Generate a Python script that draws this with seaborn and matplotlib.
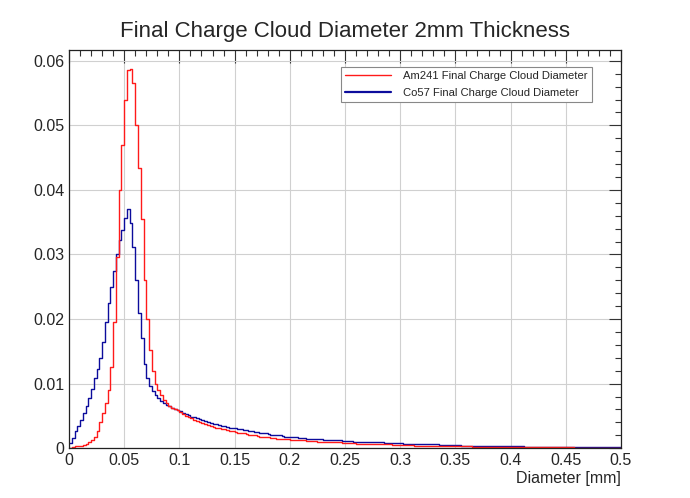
import numpy as np
import pandas as pd
import matplotlib
matplotlib.use("Agg")
import matplotlib.pyplot as plt
from matplotlib.ticker import MultipleLocator
import seaborn as sns

# 200 bins of width 0.0025 mm from 0 to 0.5 mm
bin_width = 0.0025
x_range = (0.0, 0.5)

am241 = [
    0.0001, 0.0002, 0.0003, 0.0003, 0.0004, 0.0005, 0.0007, 0.0009, 0.0012, 0.0018,
    0.0026, 0.0040, 0.0054, 0.0070, 0.0090, 0.0125, 0.0195, 0.0296, 0.0400, 0.0470,
    0.0540, 0.0585, 0.0588, 0.0566, 0.0500, 0.0434, 0.0355, 0.0260, 0.0200, 0.0152,
    0.0120, 0.0100, 0.0090, 0.0082, 0.0075, 0.0070, 0.0066, 0.0063, 0.0061, 0.0059,
    0.0056, 0.0053, 0.0050, 0.0048, 0.0046, 0.0044, 0.0042, 0.0041, 0.0039, 0.0038,
    0.0036, 0.0035, 0.0033, 0.0032, 0.0031, 0.0030, 0.0029, 0.0028, 0.0027, 0.0026,
    0.0025, 0.0024, 0.0023, 0.0023, 0.0022, 0.0021, 0.0020, 0.0020, 0.0019, 0.0018,
    0.0018, 0.0017, 0.0017, 0.0016, 0.0016, 0.0015, 0.0015, 0.0014, 0.0014, 0.0014,
    0.0013, 0.0013, 0.0013, 0.0012, 0.0012, 0.0012, 0.0011, 0.0011, 0.0011, 0.0011,
    0.0010, 0.0010, 0.0010, 0.0010, 0.0009, 0.0009, 0.0009, 0.0009, 0.0009, 0.0008,
    0.0008, 0.0008, 0.0008, 0.0008, 0.0007, 0.0007, 0.0007, 0.0007, 0.0007, 0.0007,
    0.0006, 0.0006, 0.0006, 0.0006, 0.0006, 0.0006, 0.0006, 0.0005, 0.0005, 0.0005,
    0.0005, 0.0005, 0.0005, 0.0005, 0.0005, 0.0004, 0.0004, 0.0004, 0.0004, 0.0004,
    0.0004, 0.0004, 0.0004, 0.0004, 0.0003, 0.0003, 0.0003, 0.0003, 0.0003, 0.0003,
    0.0003, 0.0003, 0.0003, 0.0003, 0.0003, 0.0003, 0.00025, 0.00025, 0.00025, 0.00025,
    0.00025, 0.00025, 0.0002, 0.0002, 0.0002, 0.0002, 0.0002, 0.0002, 0.0002, 0.0002,
    0.0002, 0.0002, 0.00018, 0.00018, 0.00018, 0.00016, 0.00016, 0.00016, 0.00015, 0.00015,
    0.00015, 0.00014, 0.00014, 0.00013, 0.00013, 0.00013, 0.00012, 0.00012, 0.00012, 0.00012,
    0.00011, 0.00011, 0.00011, 0.0001, 0.0001, 0.0001, 0.0001, 0.0001, 0.00009, 0.00009,
    0.00009, 0.00009, 0.00009, 0.00008, 0.00008, 0.00008, 0.00008, 0.00008, 0.00007, 0.00007,
]

co57 = [
    0.0008, 0.0016, 0.0026, 0.0035, 0.0044, 0.0055, 0.0066, 0.0078, 0.0092, 0.0108,
    0.0122, 0.0140, 0.0165, 0.0195, 0.0225, 0.0250, 0.0275, 0.0300, 0.0322, 0.0338,
    0.0357, 0.0370, 0.0349, 0.0312, 0.0260, 0.0210, 0.0170, 0.0130, 0.0108, 0.0096,
    0.0088, 0.0082, 0.0077, 0.0073, 0.0070, 0.0067, 0.0065, 0.0063, 0.0061, 0.0059,
    0.0057, 0.0055, 0.0053, 0.0051, 0.0049, 0.0048, 0.0046, 0.0045, 0.0043, 0.0042,
    0.0040, 0.0039, 0.0038, 0.0037, 0.0036, 0.0035, 0.0034, 0.0033, 0.0032, 0.0031,
    0.0031, 0.0030, 0.0029, 0.0028, 0.0028, 0.0027, 0.0026, 0.0025, 0.0025, 0.0024,
    0.0023, 0.0023, 0.0022, 0.0021, 0.0021, 0.0020, 0.0020, 0.0019, 0.0018, 0.0018,
    0.0017, 0.0017, 0.0017, 0.0016, 0.0016, 0.0016, 0.0015, 0.0015, 0.0015, 0.0014,
    0.0014, 0.0014, 0.0013, 0.0013, 0.0013, 0.0012, 0.0012, 0.0012, 0.0012, 0.0011,
    0.0011, 0.0011, 0.0011, 0.0010, 0.0010, 0.0010, 0.0010, 0.0010, 0.0009, 0.0009,
    0.0009, 0.0009, 0.0009, 0.0009, 0.0008, 0.0008, 0.0008, 0.0008, 0.0008, 0.0008,
    0.0008, 0.0007, 0.0007, 0.0007, 0.0007, 0.0007, 0.0007, 0.0006, 0.0006, 0.0006,
    0.0006, 0.0006, 0.0006, 0.0006, 0.0005, 0.0005, 0.0005, 0.0005, 0.0005, 0.0005,
    0.0005, 0.0005, 0.0004, 0.0004, 0.0004, 0.0004, 0.0004, 0.0004, 0.0004, 0.0004,
    0.0004, 0.0004, 0.0003, 0.0003, 0.0003, 0.0003, 0.0003, 0.0003, 0.0003, 0.0003,
    0.0003, 0.0003, 0.0003, 0.00028, 0.00028, 0.00026, 0.00026, 0.00025, 0.00025, 0.00024,
    0.00024, 0.00023, 0.00023, 0.00022, 0.00022, 0.00021, 0.00021, 0.0002, 0.0002, 0.0002,
    0.0002, 0.00019, 0.00019, 0.00018, 0.00018, 0.00017, 0.00017, 0.00016, 0.00016, 0.00016,
    0.00015, 0.00015, 0.00015, 0.00014, 0.00014, 0.00014, 0.00013, 0.00013, 0.00013, 0.00012,
]

labels = ["Am241 Final Charge Cloud Diameter", "Co57 Final Charge Cloud Diameter"]
colors = ["#ff1a1a", "#0c0c9c"]

n_bins = len(am241)
centers = x_range[0] + bin_width * (np.arange(n_bins) + 0.5)
df = pd.DataFrame({
    "diameter": np.concatenate([centers, centers]),
    "weight": np.concatenate([am241, co57]),
    "source": [labels[0]] * n_bins + [labels[1]] * n_bins,
})

sns.set_style("white")
plt.rcParams["font.family"] = ["Liberation Sans", "DejaVu Sans"]

fig = plt.figure(figsize=(6.9, 4.98), dpi=100)
ax = fig.add_axes([0.1, 0.1, 0.8, 0.8])

sns.histplot(data=df, x="diameter", weights="weight", hue="source",
             hue_order=labels, palette=colors, binwidth=bin_width,
             binrange=x_range, element="step", fill=False, linewidth=1.0,
             ax=ax, legend=False)

ax.set_xlim(0, 0.5)
ax.set_ylim(0, 0.0617)
ax.xaxis.set_minor_locator(MultipleLocator(0.01))
ax.yaxis.set_minor_locator(MultipleLocator(0.002))
ax.set_xticks(np.arange(0, 0.501, 0.05))
ax.set_xticklabels(["0", "0.05", "0.1", "0.15", "0.2", "0.25", "0.3",
                    "0.35", "0.4", "0.45", "0.5"])
ax.set_yticks(np.arange(0, 0.061, 0.01))
ax.set_yticklabels(["0", "0.01", "0.02", "0.03", "0.04", "0.05", "0.06"])

ax.tick_params(which="both", direction="in", top=True, right=True,
               labelsize=11.5, color="#333333")
ax.tick_params(which="major", length=9, width=0.8)
ax.tick_params(which="minor", length=4.5, width=0.8)
ax.grid(True, which="major", color="#d0d0d0", linewidth=0.8)
ax.set_axisbelow(True)
for sp in ax.spines.values():
    sp.set_color("#222222")
    sp.set_linewidth(0.9)

ax.set_ylabel("")
ax.set_xlabel("Diameter [mm]", loc="right", fontsize=11.5, labelpad=2)
fig.suptitle("Final Charge Cloud Diameter 2mm Thickness", fontsize=16, y=0.958)

handles = [plt.Line2D([], [], color=colors[0], linewidth=1.0),
           plt.Line2D([], [], color=colors[1], linewidth=1.6)]
leg = ax.legend(handles, labels, loc="upper right", bbox_to_anchor=(0.947, 0.957),
                borderaxespad=0, fontsize=8.1, frameon=True, fancybox=False,
                framealpha=1, edgecolor="#888888", borderpad=0.4,
                handlelength=4.1, handletextpad=1.0, labelspacing=0.55)
leg.get_frame().set_linewidth(0.8)

fig.savefig("out.png", dpi=100)
